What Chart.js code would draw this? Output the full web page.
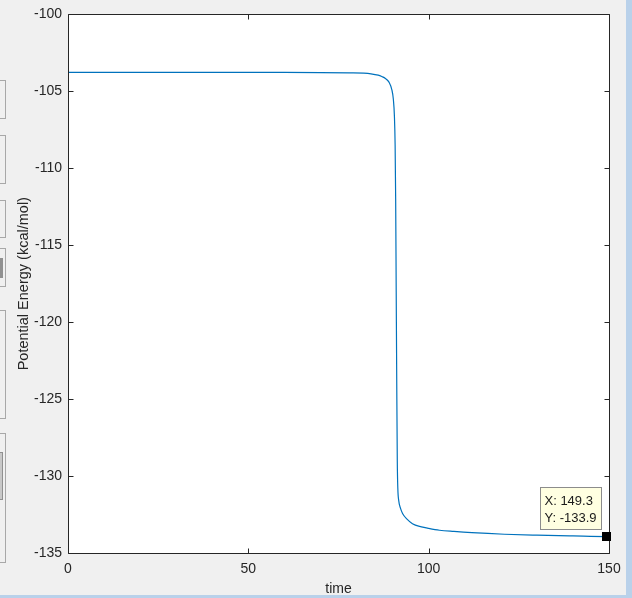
<!DOCTYPE html>
<html>
<head>
<meta charset="utf-8">
<script src="https://cdn.jsdelivr.net/npm/chart.js@4/dist/chart.umd.min.js"></script>
<style>
html,body{margin:0;padding:0;background:#f0f0f0;}
#wrap{position:relative;width:632px;height:598px;overflow:hidden;background:#f0f0f0;}
canvas{display:block;}
</style>
</head>
<body>
<div id="wrap"><canvas id="c" width="632" height="598"></canvas></div>
<script>
// ---- data ----
const timeValues = [0, 20, 40, 60, 70, 78, 82, 84, 86, 87, 88, 89, 89.8, 90.2, 90.5, 90.7, 90.85, 91.0, 91.15, 91.3, 91.45, 91.7, 92.2, 92.8, 94, 95.5, 98, 100, 103, 107, 112, 121, 130, 140, 149.3, 150];
const energyValues = [-103.77, -103.77, -103.77, -103.77, -103.78, -103.8, -103.82, -103.86, -103.95, -104.04, -104.16, -104.4, -104.9, -105.5, -106.6, -108.5, -112, -118, -124, -129, -130.8, -131.6, -132.1, -132.45, -132.8, -133.1, -133.3, -133.4, -133.52, -133.6, -133.68, -133.78, -133.84, -133.89, -133.93, -133.93];
const xTicks = [0, 50, 100, 150];
const yTicks = [-100, -105, -110, -115, -120, -125, -130, -135];
const tipPoint = {x: 149.3, y: -133.9};
const tipLabels = ['X: 149.3', 'Y: -133.9'];
const xTitle = 'time';
const yTitle = 'Potential Energy (kcal/mol)';

const lineData = timeValues.map((t, i) => ({x: t, y: energyValues[i]}));
const AXIS = '#262626';
const FONT = '"Liberation Sans", Arial, Helvetica, sans-serif';

const decor = {
  id: 'decor',
  beforeDraw(chart) {
    const ctx = chart.ctx;
    ctx.save();
    ctx.fillStyle = '#f0f0f0';
    ctx.fillRect(0, 0, chart.width, chart.height);
    // partial GUI controls at left edge
    ctx.strokeStyle = '#a8a8a8';
    ctx.lineWidth = 1;
    const boxes = [[80,118],[135,183],[200,237],[248,286],[310,418],[433,562]];
    boxes.forEach(b => { ctx.strokeRect(-2.5, b[0]+0.5, 8, b[1]-b[0]); });
    ctx.fillStyle = '#c8c8c8';
    ctx.fillRect(0, 452, 3, 48);
    ctx.strokeStyle = '#909090';
    ctx.strokeRect(-2.5, 452.5, 5, 47);
    ctx.fillStyle = '#909090';
    ctx.fillRect(0, 258, 3, 20);
    // window border (right & bottom)
    ctx.fillStyle = '#b9d1ea';
    ctx.fillRect(626, 0, 6, 598);
    ctx.fillRect(0, 595, 632, 3);
    // plot background
    const a = chart.chartArea;
    ctx.fillStyle = '#ffffff';
    ctx.fillRect(a.left, a.top, a.right - a.left, a.bottom - a.top);
    ctx.restore();
  },
  afterDatasetsDraw(chart) {
    const ctx = chart.ctx;
    const a = chart.chartArea;
    const xs = chart.scales.x, ys = chart.scales.y;
    ctx.save();
    ctx.strokeStyle = AXIS;
    ctx.lineWidth = 1;
    ctx.beginPath();
    const L = Math.round(a.left) + 0.5, R = Math.round(a.right) + 0.5;
    const T = Math.round(a.top) + 0.5, B = Math.round(a.bottom) + 0.5;
    ctx.rect(L, T, R - L, B - T);
    const tl = 5;
    xTicks.forEach(v => {
      const px = Math.round(xs.getPixelForValue(v)) + 0.5;
      ctx.moveTo(px, B); ctx.lineTo(px, B - tl);
      ctx.moveTo(px, T); ctx.lineTo(px, T + tl);
    });
    yTicks.forEach(v => {
      const py = Math.round(ys.getPixelForValue(v)) + 0.5;
      ctx.moveTo(L, py); ctx.lineTo(L + tl, py);
      ctx.moveTo(R, py); ctx.lineTo(R - tl, py);
    });
    ctx.stroke();
    ctx.restore();
  },
  afterDraw(chart) {
    const ctx = chart.ctx;
    const xs = chart.scales.x, ys = chart.scales.y;
    const px = xs.getPixelForValue(tipPoint.x);
    const py = ys.getPixelForValue(tipPoint.y);
    ctx.save();
    // marker
    ctx.fillStyle = '#000000';
    ctx.fillRect(Math.round(px) - 4, Math.round(py) - 4, 9, 9);
    // datatip box
    const bx = Math.round(px - 66) + 0.5, by = Math.round(py - 49) + 0.5, bw = 61, bh = 42;
    ctx.fillStyle = '#ffffe1';
    ctx.fillRect(bx, by, bw, bh);
    ctx.strokeStyle = '#8c8c8c';
    ctx.lineWidth = 1;
    ctx.strokeRect(bx, by, bw, bh);
    ctx.fillStyle = '#1a1a1a';
    ctx.font = '13px ' + FONT;
    ctx.textBaseline = 'middle';
    ctx.textAlign = 'left';
    ctx.fillText(tipLabels[0], bx + 4, by + 14);
    ctx.fillText(tipLabels[1], bx + 4, by + 31);
    ctx.restore();
  }
};

new Chart(document.getElementById('c'), {
  type: 'line',
  data: {
    datasets: [
      {
        data: lineData,
        borderColor: '#0072BD',
        borderWidth: 1.2,
        pointRadius: 0,
        cubicInterpolationMode: 'monotone',
        fill: false
      }
    ]
  },
  options: {
    responsive: false,
    animation: false,
    devicePixelRatio: 1,
    layout: {padding: {left: 0, top: 14, right: 23, bottom: 0}},
    plugins: {legend: {display: false}, tooltip: {enabled: false}},
    scales: {
      x: {
        type: 'linear',
        min: 0, max: 150,
        afterBuildTicks(s) { s.ticks = xTicks.map(v => ({value: v})); },
        afterFit(s) { s.height = 45; },
        grid: {display: false, drawTicks: false},
        border: {display: false},
        ticks: {color: AXIS, font: {family: FONT, size: 14}, padding: 8, maxRotation: 0, autoSkip: false},
        title: {display: true, text: xTitle, color: AXIS, font: {family: FONT, size: 14}, padding: {top: 0, bottom: 0}}
      },
      y: {
        type: 'linear',
        min: -135, max: -100,
        afterBuildTicks(s) { s.ticks = yTicks.map(v => ({value: v})); },
        afterFit(s) { s.width = 68; },
        grid: {display: false, drawTicks: false},
        border: {display: false},
        ticks: {color: AXIS, font: {family: FONT, size: 14}, padding: 6, autoSkip: false},
        title: {display: true, text: yTitle, color: AXIS, font: {family: FONT, size: 14.5}, padding: {top: 15, bottom: 0}}
      }
    }
  },
  plugins: [decor]
});
</script>
</body>
</html>
